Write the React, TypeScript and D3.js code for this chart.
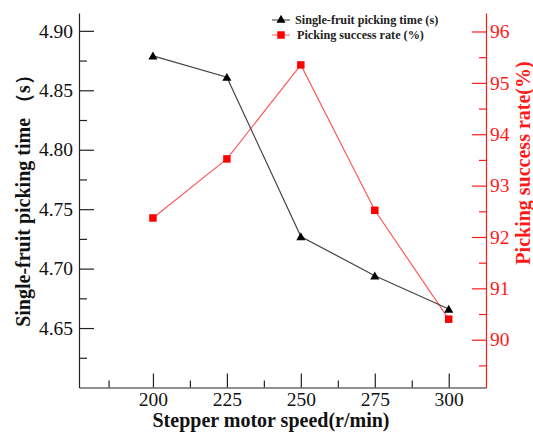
import React, { useEffect, useRef } from "react";
import * as d3 from "d3";

// motor speed (r/min)
const speeds = [200, 225, 250, 275, 300];
// single-fruit picking time (s)
const pickTime = [4.879, 4.861, 4.727, 4.694, 4.666];
// picking success rate (%)
const successRate = [92.37, 93.52, 95.35, 92.52, 90.4];

const xTicks = [200, 225, 250, 275, 300];
const xMinor = [185, 212.5, 237.5, 262.5, 287.5];
const leftTicks = [4.65, 4.7, 4.75, 4.8, 4.85, 4.9];
const leftMinor = [4.625, 4.675, 4.725, 4.775, 4.825, 4.875];
const rightTicks = [90, 91, 92, 93, 94, 95, 96];
const rightMinor = [89.5, 90.5, 91.5, 92.5, 93.5, 94.5, 95.5];

const W = 533;
const H = 432;
const FONT = "'Liberation Serif', 'Times New Roman', serif";

export default function App() {
  const svgRef = useRef<SVGSVGElement>(null);

  useEffect(() => {
    const svg = d3.select(svgRef.current);
    svg.selectAll("*").remove();
    svg.style("font-family", FONT);

    const x = d3.scaleLinear().domain([175, 312.6]).range([79, 486]);
    const yL = d3.scaleLinear().domain([4.6, 4.915]).range([387.5, 13]);
    const yR = d3.scaleLinear().domain([89.07, 96.36]).range([387.5, 13]);

    const black = "#222";
    const red = "#ff1a1a";

    // bottom axis
    const gx = svg.append("g").attr("transform", "translate(0,387.5)");
    gx.call(
      d3.axisBottom(x).tickValues(xTicks).tickSizeInner(-14).tickSizeOuter(0).tickPadding(5).tickFormat(d3.format("d"))
    );
    gx.append("g").call(
      d3.axisBottom(x).tickValues(xMinor).tickSizeInner(-7).tickSizeOuter(0).tickFormat(() => "")
    ).select(".domain").remove();

    // left axis
    const gl = svg.append("g").attr("transform", "translate(79,0)");
    gl.call(
      d3.axisLeft(yL).tickValues(leftTicks).tickSizeInner(-15).tickSizeOuter(0).tickPadding(6).tickFormat(d3.format(".2f"))
    );
    gl.append("g").call(
      d3.axisLeft(yL).tickValues(leftMinor).tickSizeInner(-8).tickSizeOuter(0).tickFormat(() => "")
    ).select(".domain").remove();

    // right axis
    const gr = svg.append("g").attr("transform", "translate(486,0)");
    gr.call(
      d3.axisRight(yR).tickValues(rightTicks).tickSizeInner(-14).tickSizeOuter(0).tickPadding(4).tickFormat(d3.format("d"))
    );
    gr.append("g").call(
      d3.axisRight(yR).tickValues(rightMinor).tickSizeInner(-7).tickSizeOuter(0).tickFormat(() => "")
    ).select(".domain").remove();

    [gx, gl, gr].forEach((g) => g.attr("font-family", null).style("font-family", FONT));
    [gx, gl].forEach((g) => {
      g.selectAll("path,line").attr("stroke", black).attr("stroke-width", 1.2);
      g.selectAll("text").attr("fill", "#111").style("font-family", FONT).style("font-size", "19.5px");
    });
    gr.selectAll("path,line").attr("stroke", red).attr("stroke-width", 1.2);
    gr.selectAll("text").attr("fill", red).style("font-family", FONT).style("font-size", "19.5px");

    // lines
    const timeLine = d3
      .line<number>()
      .x((_, i) => x(speeds[i]))
      .y((d) => yL(d));
    const rateLine = d3
      .line<number>()
      .x((_, i) => x(speeds[i]))
      .y((d) => yR(d));

    svg.append("path").datum(successRate).attr("d", rateLine)
      .attr("fill", "none").attr("stroke", "#ff5a5a").attr("stroke-width", 1.2);
    svg.append("path").datum(pickTime).attr("d", timeLine)
      .attr("fill", "none").attr("stroke", "#444").attr("stroke-width", 1.2);

    const tri = d3.symbol().type(d3.symbolTriangle).size(36);
    const sq = d3.symbol().type(d3.symbolSquare).size(56);

    svg.append("g").selectAll("path").data(successRate).join("path")
      .attr("d", sq)
      .attr("transform", (d, i) => `translate(${x(speeds[i])},${yR(d)})`)
      .attr("fill", "#ff0000");
    svg.append("g").selectAll("path").data(pickTime).join("path")
      .attr("d", tri)
      .attr("transform", (d, i) => `translate(${x(speeds[i])},${yL(d) + 1})`)
      .attr("fill", "#000");

    // legend
    const legend = svg.append("g").style("font-family", FONT).attr("font-weight", "bold").attr("font-size", 12.2).attr("fill", "#222");
    legend.append("line").attr("x1", 272).attr("x2", 290).attr("y1", 20).attr("y2", 20).attr("stroke", "#333");
    legend.append("path").attr("d", tri).attr("transform", "translate(281,20)").attr("fill", "#000");
    legend.append("text").attr("x", 295).attr("y", 24).text("Single-fruit picking time (s)");
    legend.append("line").attr("x1", 272).attr("x2", 290).attr("y1", 35).attr("y2", 35).attr("stroke", "#ff5a5a");
    legend.append("path").attr("d", sq).attr("transform", "translate(281,35)").attr("fill", "#ff0000");
    legend.append("text").attr("x", 297).attr("y", 39).text("Picking success rate (%)");

    // axis titles
    svg.append("text")
      .attr("x", 271).attr("y", 427)
      .attr("text-anchor", "middle")
      .attr("font-weight", "bold").attr("font-size", 20).attr("fill", "#111")
      .text("Stepper motor speed(r/min)");
    svg.append("text")
      .attr("transform", "translate(30,196) rotate(-90)")
      .attr("text-anchor", "middle")
      .attr("font-weight", "bold").attr("font-size", 20).attr("fill", "#111")
      .text("Single-fruit picking time （s）");
    svg.append("text")
      .attr("transform", "translate(530,163) rotate(-90)")
      .attr("text-anchor", "middle")
      .attr("font-weight", "bold").attr("font-size", 20).attr("fill", red)
      .text("Picking success rate(%)");
  }, []);

  return (
    <svg
      ref={svgRef}
      width={W}
      height={H}
      style={{ position: "absolute", left: 0, top: 0, background: "#fff" }}
    />
  );
}
